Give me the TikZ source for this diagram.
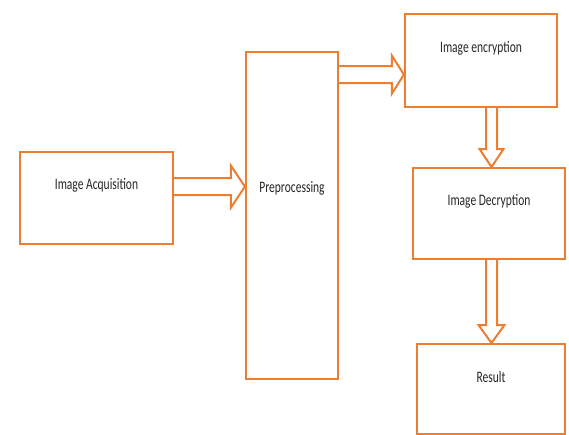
\documentclass[tikz,border=0pt]{standalone}
\usepackage{fontspec}
\setmainfont{Carlito}[FakeStretch=0.72]
\usetikzlibrary{calc}
\definecolor{boxorange}{HTML}{ED7D31}
\begin{document}
\begin{tikzpicture}[x=1pt,y=-1pt,
    stage/.style={draw=boxorange, line width=2.2pt, fill=white, inner ysep=0pt,
      text height=37pt, text depth=55pt, text=black!85, anchor=north,
      font=\fontsize{16}{18}\selectfont},
    hollow/.style n args={3}{draw=boxorange, line width=2pt, line join=miter,
      to path={($(\tikztostart)!#1!90:(\tikztotarget)$)
        -- ($(\tikztotarget)!#3!(\tikztostart)!#1!-90:(\tikztostart)$)
        -- ($(\tikztotarget)!#3!(\tikztostart)!#2!-90:(\tikztostart)$)
        -- (\tikztotarget)
        -- ($(\tikztotarget)!#3!(\tikztostart)!#2!90:(\tikztostart)$)
        -- ($(\tikztotarget)!#3!(\tikztostart)!#1!90:(\tikztostart)$)
        -- ($(\tikztostart)!#1!-90:(\tikztotarget)$)}}]
  \useasboundingbox (0,0) rectangle (569,434);
  \node[stage, minimum width=153pt] (acq) at (96.5,151) {Image Acquisition};
  \node[stage, minimum width=92pt, text height=140pt, text depth=187pt] (pre) at (292,51) {Preprocessing};
  \node[stage, minimum width=152pt, text height=38pt] (enc) at (481,13) {Image encryption};
  \node[stage, minimum width=152pt, text depth=54pt] (dec) at (489,167) {Image Decryption};
  \node[stage, minimum width=148pt, text height=38pt, text depth=52pt] (res) at (491,343) {Result};
  \coordinate (acqout) at ([yshift=11.5pt]acq.east);
  \coordinate (prein) at (acqout -| pre.west);
  \coordinate (encin) at ([yshift=-14pt]enc.west);
  \coordinate (preout) at (encin -| pre.east);
  \coordinate (encout) at ([xshift=10.5pt]enc.south);
  \coordinate (decin) at (encout |- dec.north);
  \coordinate (decout) at ([xshift=2.5pt]dec.south);
  \coordinate (resin) at (decout |- res.north);
  \begin{scope}
    \draw[hollow={8.5pt}{21pt}{14pt}] (acqout) to (prein);
    \draw[hollow={8.5pt}{19pt}{12pt}] (preout) to (encin);
    \draw[hollow={5.5pt}{12pt}{18pt}] (encout) to (decin);
    \draw[hollow={5.5pt}{13pt}{18pt}] (decout) to (resin);
  \end{scope}
\end{tikzpicture}
\end{document}
